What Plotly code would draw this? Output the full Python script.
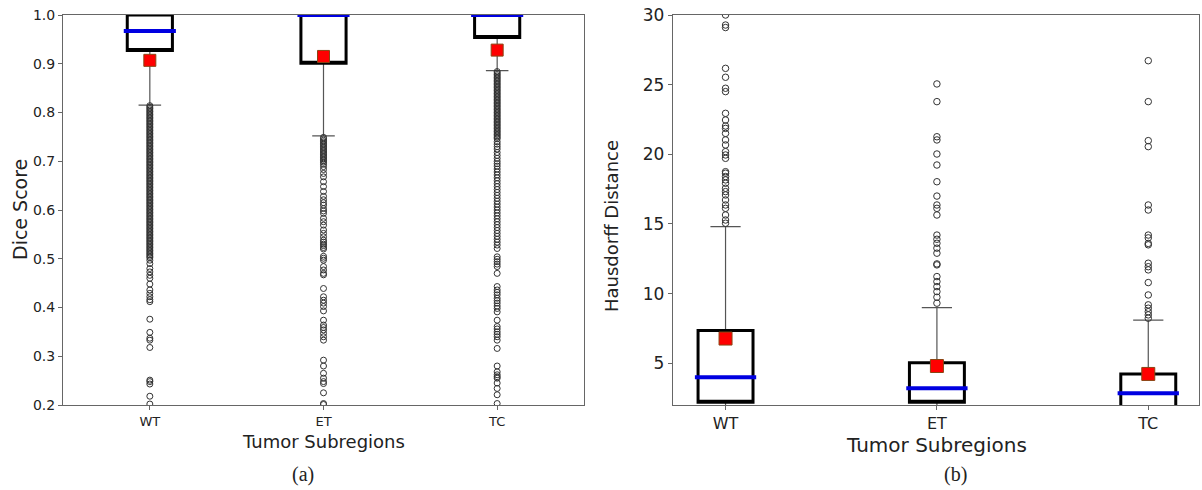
import plotly.graph_objects as go

# ---------------- data ----------------
categories = ["WT", "ET", "TC"]

# (a) Dice score
dice_q1 = [0.927, 0.901, 0.954]
dice_median = [0.967, 1.0, 1.0]
dice_q3 = [1.0, 1.0, 1.0]
dice_low = [0.815, 0.752, 0.886]
dice_high = [1.0, 1.0, 1.0]
dice_mean = [0.907, 0.915, 0.928]

dice_out_wt = [0.814, 0.811, 0.808, 0.805, 0.802, 0.799, 0.796, 0.793, 0.790, 0.787, 0.784, 0.781,
               0.778, 0.775, 0.772, 0.769, 0.766, 0.763, 0.760, 0.757, 0.754, 0.751, 0.748, 0.745,
               0.742, 0.739, 0.736, 0.733, 0.730, 0.727, 0.724, 0.721, 0.718, 0.715, 0.712, 0.709,
               0.706, 0.703, 0.700, 0.697, 0.694, 0.691, 0.688, 0.685, 0.682, 0.679, 0.676, 0.673,
               0.670, 0.667, 0.664, 0.661, 0.658, 0.655, 0.652, 0.649, 0.646, 0.643, 0.640, 0.637,
               0.634, 0.631, 0.628, 0.625, 0.622, 0.619, 0.616, 0.613, 0.610, 0.607, 0.604, 0.601,
               0.598, 0.595, 0.592, 0.589, 0.586, 0.583, 0.580, 0.577, 0.574, 0.571, 0.568, 0.565,
               0.562, 0.559, 0.556, 0.553, 0.550, 0.547, 0.544, 0.541, 0.538, 0.535, 0.532, 0.529,
               0.526, 0.523, 0.520, 0.517, 0.514, 0.511, 0.508, 0.505, 0.502, 0.497, 0.490, 0.480,
               0.473, 0.466, 0.460, 0.448, 0.436, 0.429, 0.422, 0.416, 0.412, 0.376, 0.349, 0.337,
               0.333, 0.318, 0.251, 0.248, 0.243, 0.218, 0.202]
dice_out_et = [0.749, 0.746, 0.743, 0.740, 0.737, 0.734, 0.731, 0.728, 0.725, 0.722, 0.719, 0.716,
               0.713, 0.710, 0.707, 0.704, 0.701, 0.698, 0.694, 0.689, 0.683, 0.675, 0.668, 0.658,
               0.648, 0.638, 0.628, 0.621, 0.615, 0.610, 0.603, 0.598, 0.593, 0.583, 0.576, 0.569,
               0.559, 0.552, 0.545, 0.538, 0.534, 0.530, 0.527, 0.523, 0.520, 0.505, 0.501, 0.497,
               0.484, 0.477, 0.470, 0.467, 0.439, 0.422, 0.415, 0.409, 0.402, 0.393, 0.374, 0.364,
               0.359, 0.354, 0.347, 0.340, 0.333, 0.292, 0.280, 0.265, 0.255, 0.248, 0.244, 0.225,
               0.203, 0.201]
dice_out_tc = [0.884, 0.881, 0.878, 0.875, 0.872, 0.869, 0.866, 0.863, 0.860, 0.857, 0.854, 0.851,
               0.848, 0.845, 0.842, 0.839, 0.836, 0.833, 0.830, 0.827, 0.824, 0.821, 0.818, 0.815,
               0.812, 0.809, 0.806, 0.803, 0.800, 0.797, 0.794, 0.791, 0.788, 0.785, 0.782, 0.779,
               0.776, 0.773, 0.770, 0.767, 0.764, 0.761, 0.758, 0.755, 0.752, 0.749, 0.746, 0.740,
               0.735, 0.730, 0.725, 0.718, 0.712, 0.706, 0.700, 0.695, 0.690, 0.684, 0.678, 0.672,
               0.666, 0.660, 0.654, 0.648, 0.642, 0.636, 0.630, 0.624, 0.618, 0.612, 0.606, 0.600,
               0.594, 0.588, 0.582, 0.576, 0.570, 0.564, 0.558, 0.552, 0.546, 0.540, 0.534, 0.528,
               0.521, 0.504, 0.499, 0.494, 0.489, 0.484, 0.470, 0.443, 0.436, 0.431, 0.426, 0.419,
               0.414, 0.409, 0.403, 0.398, 0.391, 0.374, 0.361, 0.356, 0.350, 0.345, 0.340, 0.333,
               0.316, 0.280, 0.268, 0.262, 0.258, 0.255, 0.245, 0.234, 0.221, 0.203]

# (b) Hausdorff distance
hd_q1 = [2.19, 2.2, 1.5]
hd_median = [4.0, 3.2, 2.85]
hd_q3 = [7.34, 5.04, 4.23]
hd_low = [1.0, 1.0, 1.0]
hd_high = [14.8, 8.99, 8.1]
hd_mean = [6.77, 4.8, 4.23]

hd_out_wt = [30.0, 29.28, 29.1, 26.17, 25.53, 24.74, 24.5, 22.94, 22.46, 22.03, 21.86, 21.5,
             21.03, 20.67, 20.19, 19.95, 19.71, 18.75, 18.64, 18.4, 18.16, 17.92, 17.56, 17.32,
             17.08, 16.72, 16.36, 16.12, 15.64, 15.28, 15.05]
hd_out_et = [25.05, 23.78, 21.26, 21.03, 20.02, 19.23, 18.03, 17.0, 16.36, 16.12, 15.64, 14.2,
             13.9, 13.61, 13.26, 12.9, 12.13, 12.06, 11.22, 10.86, 10.5, 10.14, 9.74, 9.31]
hd_out_tc = [26.72, 23.78, 20.98, 20.55, 16.36, 16.0, 14.2, 14.0, 13.6, 13.5, 12.18, 11.93,
             11.7, 10.79, 9.9, 9.19, 8.95, 8.7, 8.47, 8.23]

# ---------------- styles ----------------
BOX_W = 0.26
WHISKER_COLOR = "#555555"
MEDIAN_COLOR = "rgb(0,0,225)"
AXIS_COLOR = "#666666"
TICK_FONT = "DejaVu Sans"

W, H = 1202, 490


def fx(px):
    return px / W


def fy(py):
    return 1 - py / H


fig = go.Figure()


def add_panel(xa, ya, q1, med, q3, low, high, mean, outs, med_w, mean_size, out_size, cap_w):
    # whiskers + caps
    fig.add_trace(go.Box(x=categories, q1=q1, median=med, q3=q3, lowerfence=low, upperfence=high,
                         width=BOX_W, whiskerwidth=cap_w, line=dict(color=WHISKER_COLOR, width=1.2),
                         fillcolor="rgba(0,0,0,0)", xaxis=xa, yaxis=ya, showlegend=False,
                         hoverinfo="skip"))
    # box outline
    fig.add_trace(go.Box(x=categories, q1=q1, median=q1, q3=q3, lowerfence=q1, upperfence=q3,
                         width=BOX_W, whiskerwidth=0, line=dict(color="black", width=3),
                         fillcolor="white", xaxis=xa, yaxis=ya, showlegend=False,
                         hoverinfo="skip"))
    # median line
    fig.add_trace(go.Box(x=categories, q1=med, median=med, q3=med, lowerfence=med, upperfence=med,
                         width=med_w, whiskerwidth=0, line=dict(color=MEDIAN_COLOR, width=4),
                         fillcolor="rgba(0,0,0,0)", xaxis=xa, yaxis=ya, showlegend=False,
                         hoverinfo="skip"))
    # outliers
    for cat, vals in zip(categories, outs):
        fig.add_trace(go.Scatter(x=[cat] * len(vals), y=vals, mode="markers",
                                 marker=dict(symbol="circle-open", size=out_size, color="#333333",
                                             line=dict(width=1)),
                                 xaxis=xa, yaxis=ya, showlegend=False, hoverinfo="skip"))
    # means
    fig.add_trace(go.Scatter(x=categories, y=mean, mode="markers",
                             marker=dict(symbol="square", size=mean_size, color="#ff0000",
                                         line=dict(color="#8B4513", width=1)),
                             xaxis=xa, yaxis=ya, showlegend=False, hoverinfo="skip"))


add_panel("x", "y", dice_q1, dice_median, dice_q3, dice_low, dice_high, dice_mean,
          [dice_out_wt, dice_out_et, dice_out_tc], 0.30, 12, 6, 0.5)
add_panel("x2", "y2", hd_q1, hd_median, hd_q3, hd_low, hd_high, hd_mean,
          [hd_out_wt, hd_out_et, hd_out_tc], 0.29, 13, 6.5, 0.55)

y_dom = [fy(405), fy(15)]

axis_common = dict(showline=True, linecolor=AXIS_COLOR, linewidth=1, mirror=True,
                   ticks="outside", ticklen=4, tickcolor=AXIS_COLOR, showgrid=False,
                   zeroline=False, automargin=False, ticklabeloverflow="allow")

fig.update_layout(
    width=W, height=H, margin=dict(l=0, r=0, t=0, b=0),
    plot_bgcolor="white", paper_bgcolor="white", boxmode="overlay",
    xaxis=dict(domain=[fx(63), fx(584)], range=[-0.5, 2.5], type="category",
               tickfont=dict(family=TICK_FONT, size=13, color="#222"), **axis_common),
    yaxis=dict(domain=y_dom, range=[0.2, 1.0], tickvals=[0.2, 0.3, 0.4, 0.5, 0.6, 0.7, 0.8, 0.9, 1.0],
               tickformat=".1f", tickfont=dict(family=TICK_FONT, size=14, color="#222"),
               **axis_common),
    xaxis2=dict(domain=[fx(672.7), fx(1199)], range=[-0.25, 2.24], type="category",
                anchor="y2", tickfont=dict(family=TICK_FONT, size=16, color="#222"), **axis_common),
    yaxis2=dict(domain=y_dom, range=[2, 30], anchor="x2", tickvals=[5, 10, 15, 20, 25, 30],
                tickfont=dict(family=TICK_FONT, size=17, color="#222"), **axis_common),
)


def px_ann(text, x, y, size, family=TICK_FONT, angle=0):
    fig.add_annotation(text=text, x=fx(x), y=fy(y), xref="paper", yref="paper",
                       xanchor="center", yanchor="middle", showarrow=False, textangle=angle,
                       font=dict(family=family, size=size, color="#222"))


px_ann("Dice Score", 20, 210, 19, angle=-90)
px_ann("Tumor Subregions", 323, 441, 18)
px_ann("Hausdorff Distance", 611, 226, 18, angle=-90)
px_ann("Tumor Subregions", 936, 445, 20)
px_ann("(a)", 303, 474, 20, family="Liberation Serif")
px_ann("(b)", 955, 474, 20, family="Liberation Serif")

# remove the default 8px page margin so the figure fills the window exactly
fig.write_html("out.html", config={"displayModeBar": False},
               post_script="document.body.style.margin='0px';")
